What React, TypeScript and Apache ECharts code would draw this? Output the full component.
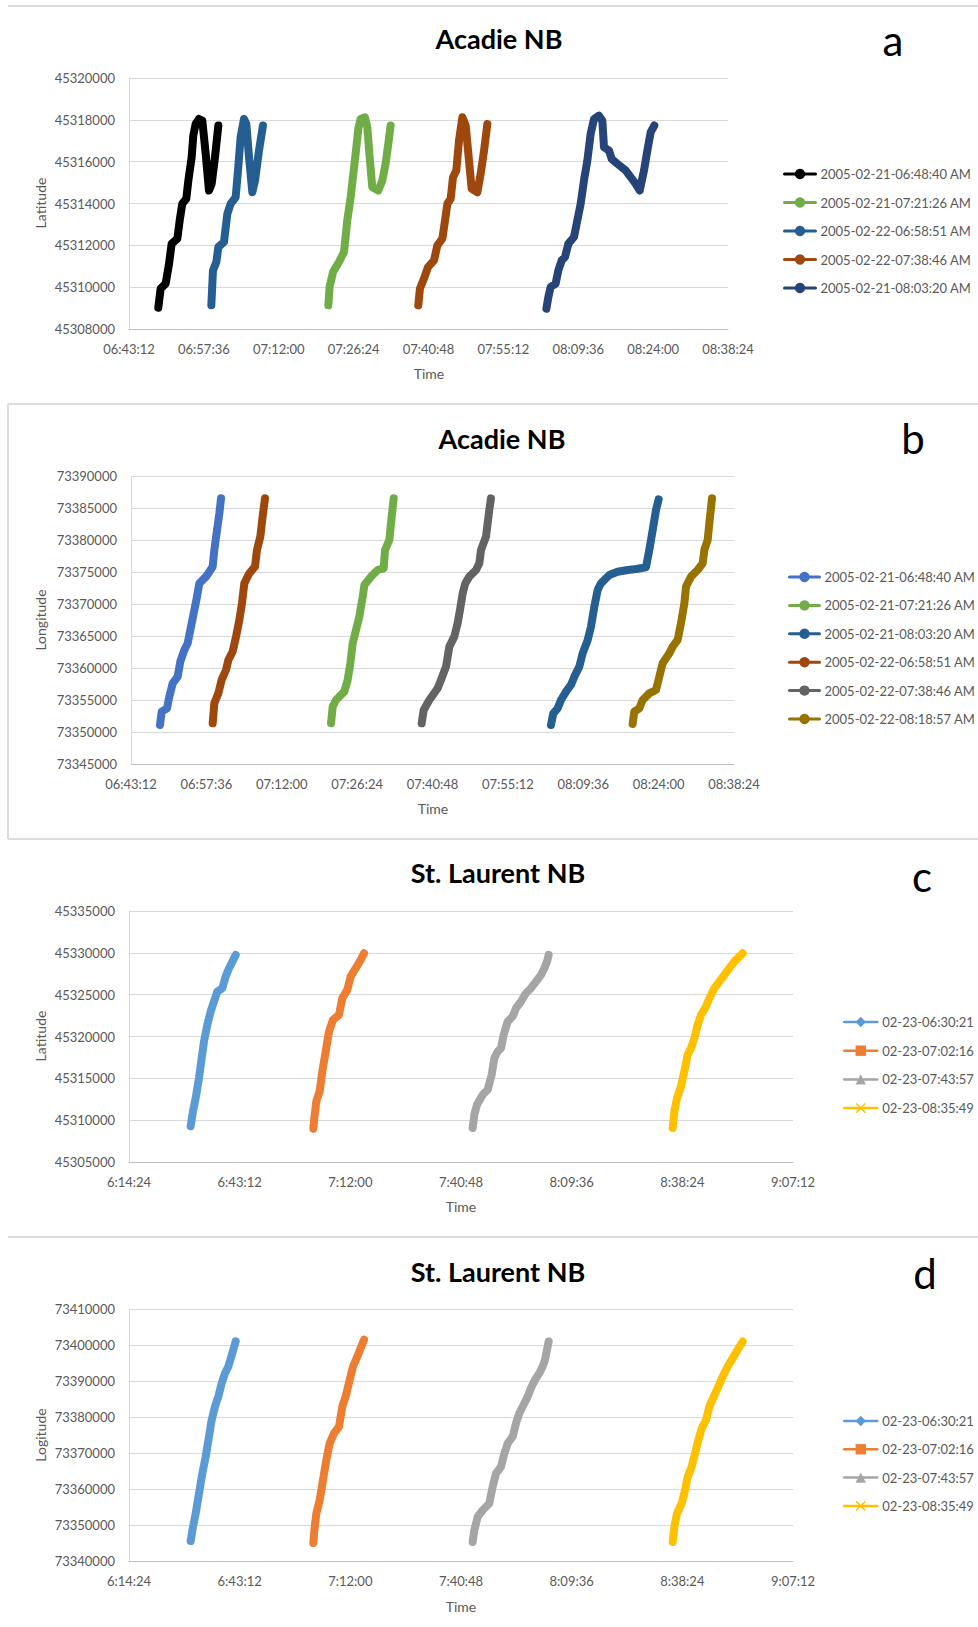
import React, { useEffect, useRef } from "react";
import * as echarts from "echarts";

const FONT = "Lato, 'Liberation Sans', sans-serif";
const LABEL = "#595959";
const GRID = "#d9d9d9";

// ---- Panel a: Acadie NB latitude (time in seconds since midnight, latitude)
const aTrip0648 = [[24530, 45309020], [24557, 45309930], [24615, 45310170], [24654, 45311120], [24684, 45312080], [24750, 45312320], [24777, 45313190], [24807, 45313990], [24853, 45314230], [24877, 45315100], [24915, 45316210], [24934, 45317250], [24961, 45317800], [24999, 45318040], [25038, 45317960], [25077, 45316370], [25115, 45314620], [25146, 45314940], [25184, 45316210], [25223, 45317730]];
const aTrip0721 = [[26492, 45309130], [26507, 45310010], [26546, 45310720], [26615, 45311200], [26673, 45311680], [26711, 45313190], [26750, 45314300], [26776, 45315260], [26807, 45316370], [26838, 45317570], [26865, 45318040], [26915, 45318120], [26942, 45317650], [26969, 45316210], [26999, 45314780], [27069, 45314620], [27115, 45315100], [27153, 45315900], [27184, 45316850], [27211, 45317730]];
const aTrip0658 = [[25142, 45309130], [25161, 45310800], [25200, 45311200], [25223, 45311920], [25288, 45312160], [25327, 45313510], [25365, 45313990], [25423, 45314300], [25453, 45315740], [25480, 45317170], [25519, 45318040], [25546, 45317800], [25577, 45316210], [25615, 45314540], [25646, 45315100], [25692, 45316530], [25738, 45317730]];
const aTrip0738 = [[27530, 45309130], [27549, 45309930], [27596, 45310410], [27642, 45310960], [27712, 45311280], [27750, 45312000], [27808, 45312320], [27839, 45313190], [27866, 45313990], [27904, 45314230], [27931, 45315260], [27969, 45315580], [28000, 45317010], [28039, 45318120], [28077, 45317730], [28108, 45316370], [28146, 45314700], [28212, 45314540], [28250, 45315420], [28289, 45316530], [28327, 45317800]];
const aTrip0803 = [[29008, 45308970], [29031, 45309530], [29058, 45310010], [29115, 45310170], [29146, 45310800], [29185, 45311280], [29223, 45311440], [29262, 45312080], [29327, 45312400], [29365, 45313190], [29404, 45313990], [29442, 45315100], [29481, 45316050], [29519, 45317330], [29558, 45318040], [29615, 45318200], [29654, 45317960], [29673, 45316690], [29731, 45316530], [29762, 45316130], [29827, 45315900], [29923, 45315580], [29981, 45315260], [30039, 45314940], [30085, 45314620], [30135, 45315580], [30173, 45316530], [30212, 45317410], [30254, 45317730]];

// ---- Panel b: Acadie NB longitude
const bTrip0648 = [[24524, 73351100], [24544, 73353180], [24605, 73353700], [24631, 73355520], [24670, 73357610], [24727, 73358650], [24757, 73360990], [24803, 73362810], [24842, 73363860], [24880, 73366460], [24918, 73369060], [24949, 73371150], [24975, 73373230], [25052, 73374270], [25128, 73375830], [25147, 73378440], [25178, 73381560], [25205, 73384170], [25224, 73386510]];
const bTrip0721 = [[26485, 73351360], [26504, 73353960], [26542, 73355000], [26637, 73356300], [26676, 73358130], [26706, 73360730], [26733, 73363860], [26771, 73365940], [26809, 73368020], [26848, 73371150], [26867, 73372970], [26943, 73374270], [27019, 73375310], [27088, 73375570], [27104, 73378440], [27153, 73380000], [27172, 73382600], [27203, 73386510]];
const bTrip0803 = [[29006, 73351100], [29033, 73352920], [29083, 73353700], [29121, 73355000], [29178, 73356300], [29235, 73357350], [29274, 73358650], [29331, 73360210], [29369, 73362290], [29427, 73364380], [29465, 73366460], [29503, 73369590], [29541, 73372190], [29579, 73373230], [29675, 73374530], [29770, 73375050], [29885, 73375310], [29981, 73375470], [30095, 73375730], [30133, 73378440], [30172, 73381560], [30210, 73384690], [30240, 73386350]];
const bTrip0658 = [[25128, 73351360], [25147, 73354480], [25193, 73356040], [25231, 73358130], [25281, 73359690], [25308, 73361250], [25357, 73362550], [25396, 73364900], [25434, 73367500], [25464, 73370110], [25491, 73373230], [25548, 73374790], [25613, 73375830], [25636, 73378440], [25674, 73380520], [25701, 73383650], [25728, 73386510]];
const bTrip0738 = [[27524, 73351360], [27547, 73353440], [27612, 73355000], [27707, 73356830], [27745, 73358130], [27803, 73360210], [27841, 73363340], [27898, 73364900], [27936, 73366980], [27963, 73369060], [27994, 73371670], [28024, 73373230], [28070, 73374270], [28147, 73375310], [28185, 73376360], [28204, 73378440], [28261, 73380520], [28280, 73382600], [28299, 73384690], [28318, 73386510]];
const bTrip0818 = [[29942, 73351250], [29961, 73353180], [30019, 73353700], [30057, 73355000], [30133, 73356040], [30210, 73356570], [30248, 73358650], [30286, 73360730], [30363, 73362290], [30401, 73363340], [30458, 73364380], [30496, 73366980], [30535, 73370110], [30554, 73372710], [30611, 73374270], [30687, 73375310], [30745, 73376360], [30764, 73378440], [30802, 73380000], [30821, 73382600], [30852, 73386510]];

// ---- Panel c: St. Laurent NB latitude
const cTrip0630 = [[23427, 45309280], [23463, 45311050], [23505, 45312640], [23557, 45315030], [23599, 45317420], [23635, 45319410], [23687, 45321400], [23739, 45322990], [23791, 45324180], [23843, 45325370], [23921, 45325770], [23973, 45327160], [24026, 45328160], [24078, 45328950], [24130, 45329750]];
const cTrip0702 = [[25342, 45308980], [25358, 45310260], [25389, 45312250], [25441, 45313440], [25483, 45315830], [25535, 45318210], [25587, 45320600], [25649, 45321990], [25743, 45322590], [25795, 45324580], [25873, 45325570], [25925, 45327160], [26003, 45328160], [26081, 45329150], [26134, 45329950]];
const cTrip0743 = [[27830, 45309060], [27856, 45310660], [27898, 45311850], [27986, 45313040], [28064, 45313640], [28127, 45315430], [28169, 45317420], [28221, 45318210], [28273, 45318610], [28314, 45320200], [28377, 45321790], [28455, 45322390], [28507, 45323380], [28585, 45324180], [28663, 45325170], [28741, 45325770], [28819, 45326570], [28897, 45327360], [28949, 45328160], [28991, 45328950], [29017, 45329750]];
const cTrip0835 = [[30953, 45309060], [30979, 45311050], [31021, 45312640], [31083, 45314040], [31135, 45315830], [31187, 45317820], [31239, 45318610], [31292, 45319800], [31344, 45321400], [31396, 45322590], [31474, 45323580], [31526, 45324580], [31604, 45325770], [31682, 45326570], [31760, 45327360], [31838, 45328160], [31916, 45328950], [31994, 45329550], [32046, 45329950]];

// ---- Panel d: St. Laurent NB longitude
const dTrip0630 = [[23427, 73345560], [23463, 73349460], [23505, 73353180], [23557, 73358750], [23609, 73364320], [23661, 73368960], [23713, 73374530], [23755, 73379170], [23807, 73382890], [23859, 73385670], [23911, 73389390], [23963, 73392170], [24015, 73394030], [24078, 73397740], [24130, 73400990]];
const dTrip0702 = [[25342, 73345010], [25358, 73348530], [25389, 73353180], [25441, 73356890], [25493, 73362460], [25545, 73368030], [25597, 73372670], [25665, 73375460], [25743, 73377320], [25795, 73382890], [25847, 73385670], [25910, 73390320], [25962, 73394030], [26030, 73396820], [26081, 73399140], [26134, 73401460]];
const dTrip0743 = [[27830, 73345280], [27856, 73348530], [27908, 73352250], [27986, 73354100], [28090, 73355960], [28142, 73360600], [28195, 73364320], [28273, 73366180], [28325, 73369890], [28377, 73372670], [28455, 73374530], [28507, 73378250], [28559, 73381030], [28637, 73383820], [28689, 73385670], [28751, 73388460], [28804, 73390320], [28871, 73392170], [28923, 73394030], [28960, 73395890], [28991, 73398670], [29017, 73400990]];
const dTrip0835 = [[30953, 73345280], [30979, 73349460], [31021, 73353180], [31094, 73355960], [31146, 73359680], [31187, 73363390], [31250, 73366180], [31302, 73369890], [31354, 73373600], [31406, 73376850], [31474, 73379170], [31526, 73382890], [31594, 73385670], [31666, 73388460], [31734, 73391240], [31812, 73394030], [31890, 73396350], [31968, 73398670], [32046, 73400990]];

// ---- Legends / labels
const aLabels = ["2005-02-21-06:48:40 AM", "2005-02-21-07:21:26 AM", "2005-02-22-06:58:51 AM", "2005-02-22-07:38:46 AM", "2005-02-21-08:03:20 AM"];
const bLabels = ["2005-02-21-06:48:40 AM", "2005-02-21-07:21:26 AM", "2005-02-21-08:03:20 AM", "2005-02-22-06:58:51 AM", "2005-02-22-07:38:46 AM", "2005-02-22-08:18:57 AM"];
const cdLabels = ["02-23-06:30:21", "02-23-07:02:16", "02-23-07:43:57", "02-23-08:35:49"];

const aColors = ["#000000", "#70ad47", "#255e91", "#9e480e", "#264478"];
const bColors = ["#4472c4", "#70ad47", "#255e91", "#9e480e", "#636363", "#997300"];
const cdColors = ["#5b9bd5", "#ed7d31", "#a5a5a5", "#ffc000"];
const XMARK = "path://M1,0L5,4L9,0L10,1L6,5L10,9L9,10L5,6L1,10L0,9L4,5L0,1Z";
const cdSymbols = ["diamond", "rect", "triangle", XMARK];

// axis ranges (time axes in seconds since midnight)
const abTimeMin = 24192, abTimeMax = 31104, abTimeStep = 864;   // 06:43:12 .. 08:38:24
const cdTimeMin = 22464, cdTimeMax = 32832, cdTimeStep = 1728;  // 6:14:24 .. 9:07:12

function fmtTime(v: number, pad: boolean) {
  const t = Math.round(v);
  const h = Math.floor(t / 3600);
  const m = Math.floor((t % 3600) / 60);
  const s = t % 60;
  const hh = pad ? String(h).padStart(2, "0") : String(h);
  return `${hh}:${String(m).padStart(2, "0")}:${String(s).padStart(2, "0")}`;
}

type Panel = {
  key: string;
  grid: { left: number; top: number; width: number; height: number };
  yMin: number; yMax: number; yStep: number;
  tMin: number; tMax: number; tStep: number; pad: boolean;
  labels: string[]; colors: string[]; symbols: string[]; data: number[][][];
  lineWidth: number;
  legend: { left: number; top: number; itemWidth: number; gap: number; lineW: number };
};

// legend left/top below are the icon positions; ECharts' default 5px padding is subtracted later
const panels: Panel[] = [
  {
    key: "a", grid: { left: 129, top: 78, width: 599, height: 251 },
    yMin: 45308000, yMax: 45320000, yStep: 2000,
    tMin: abTimeMin, tMax: abTimeMax, tStep: abTimeStep, pad: true,
    labels: aLabels, colors: aColors, symbols: aLabels.map(() => "circle"),
    data: [aTrip0648, aTrip0721, aTrip0658, aTrip0738, aTrip0803], lineWidth: 8,
    legend: { left: 783, top: 167.5, itemWidth: 31, gap: 15.5, lineW: 3 },
  },
  {
    key: "b", grid: { left: 131, top: 476, width: 603, height: 288 },
    yMin: 73345000, yMax: 73390000, yStep: 5000,
    tMin: abTimeMin, tMax: abTimeMax, tStep: abTimeStep, pad: true,
    labels: bLabels, colors: bColors, symbols: bLabels.map(() => "circle"),
    data: [bTrip0648, bTrip0721, bTrip0803, bTrip0658, bTrip0738, bTrip0818], lineWidth: 8,
    legend: { left: 788, top: 570.5, itemWidth: 30, gap: 15.4, lineW: 3 },
  },
  {
    key: "c", grid: { left: 129, top: 911, width: 664, height: 251 },
    yMin: 45305000, yMax: 45335000, yStep: 5000,
    tMin: cdTimeMin, tMax: cdTimeMax, tStep: cdTimeStep, pad: false,
    labels: cdLabels, colors: cdColors, symbols: cdSymbols,
    data: [cTrip0630, cTrip0702, cTrip0743, cTrip0835], lineWidth: 8,
    legend: { left: 843, top: 1015.5, itemWidth: 33, gap: 15.7, lineW: 2.5 },
  },
  {
    key: "d", grid: { left: 129, top: 1309, width: 664, height: 252 },
    yMin: 73340000, yMax: 73410000, yStep: 10000,
    tMin: cdTimeMin, tMax: cdTimeMax, tStep: cdTimeStep, pad: false,
    labels: cdLabels, colors: cdColors, symbols: cdSymbols,
    data: [dTrip0630, dTrip0702, dTrip0743, dTrip0835], lineWidth: 8,
    legend: { left: 843, top: 1414.5, itemWidth: 33, gap: 15.3, lineW: 2.5 },
  },
];

const titles = [
  { text: "Acadie NB", x: 499, y: 38 },
  { text: "Acadie NB", x: 502, y: 438 },
  { text: "St. Laurent NB", x: 498, y: 872 },
  { text: "St. Laurent NB", x: 498, y: 1271 },
];
const letters = [
  { text: "a", x: 893, y: 40 },
  { text: "b", x: 913, y: 438 },
  { text: "c", x: 922, y: 876 },
  { text: "d", x: 925, y: 1273 },
];
const yNames = [
  { text: "Latitude", x: 40, y: 203 },
  { text: "Longitude", x: 40, y: 620 },
  { text: "Latitude", x: 40, y: 1036 },
  { text: "Logitude", x: 40, y: 1435 },
];
const xNames = [
  { text: "Time", x: 429, y: 373 },
  { text: "Time", x: 433, y: 808 },
  { text: "Time", x: 461, y: 1206 },
  { text: "Time", x: 461, y: 1606 },
];

function buildOption() {
  const grid: any[] = [];
  const xAxis: any[] = [];
  const yAxis: any[] = [];
  const legend: any[] = [];
  const series: any[] = [];

  panels.forEach((p, i) => {
    grid.push({ ...p.grid, containLabel: false });
    xAxis.push({
      gridIndex: i, type: "value", min: p.tMin, max: p.tMax, interval: p.tStep,
      axisLine: { show: true, onZero: false, lineStyle: { color: "#bfbfbf", width: 1 } },
      axisTick: { show: false }, splitLine: { show: false },
      axisLabel: {
        margin: 13, color: LABEL, fontFamily: FONT, fontSize: 13,
        formatter: (v: number) => fmtTime(v, p.pad),
      },
    });
    yAxis.push({
      gridIndex: i, type: "value", min: p.yMin, max: p.yMax, interval: p.yStep,
      axisLine: { show: true, lineStyle: { color: GRID, width: 1 } },
      axisTick: { show: false },
      splitLine: { show: true, lineStyle: { color: GRID, width: 1 } },
      axisLabel: { margin: 14, color: LABEL, fontFamily: FONT, fontSize: 13, formatter: (v: number) => String(v) },
    });
    const names = p.labels.map((l) => `${p.key}|${l}`);
    legend.push({
      orient: "vertical", left: p.legend.left - 5, top: p.legend.top - 5,
      itemWidth: p.legend.itemWidth, itemHeight: 13, itemGap: p.legend.gap,
      data: names, selectedMode: false,
      formatter: (n: string) => n.split("|")[1],
      textStyle: { fontFamily: FONT, fontSize: 13, color: LABEL },
      lineStyle: { width: p.legend.lineW },
    });
    p.data.forEach((d, k) => {
      series.push({
        type: "line", name: names[k], xAxisIndex: i, yAxisIndex: i,
        data: d, showSymbol: false, symbol: p.symbols[k], symbolSize: 9,
        lineStyle: { color: p.colors[k], width: p.lineWidth, cap: "round", join: "round" },
        itemStyle: { color: p.colors[k] },
        emphasis: { disabled: true }, silent: true,
      });
    });
  });

  const graphic: any[] = [];
  const border = { stroke: "#dcdcdc", lineWidth: 2 };
  [6, 404, 839, 1237].forEach((y) => {
    graphic.push({ type: "line", shape: { x1: 8, y1: y, x2: 978, y2: y }, style: border, silent: true });
  });
  graphic.push({ type: "line", shape: { x1: 8, y1: 404, x2: 8, y2: 839 }, style: border, silent: true });

  titles.forEach((t) => graphic.push({
    type: "text", x: t.x, y: t.y, silent: true,
    style: { text: t.text, fontFamily: FONT, fontWeight: "bold", fontSize: 27, fill: "#000", align: "center", verticalAlign: "middle" },
  }));
  letters.forEach((t) => graphic.push({
    type: "text", x: t.x, y: t.y, silent: true,
    style: { text: t.text, fontFamily: FONT, fontSize: 42, fill: "#000", align: "center", verticalAlign: "middle" },
  }));
  yNames.forEach((t) => graphic.push({
    type: "text", x: t.x, y: t.y, rotation: Math.PI / 2, silent: true,
    style: { text: t.text, fontFamily: FONT, fontSize: 14, fill: LABEL, align: "center", verticalAlign: "middle" },
  }));
  xNames.forEach((t) => graphic.push({
    type: "text", x: t.x, y: t.y, silent: true,
    style: { text: t.text, fontFamily: FONT, fontSize: 14, fill: LABEL, align: "center", verticalAlign: "middle" },
  }));

  return {
    animation: false,
    backgroundColor: "#ffffff",
    grid, xAxis, yAxis, legend, series, graphic,
  };
}

export default function App() {
  const ref = useRef<HTMLDivElement>(null);
  useEffect(() => {
    document.body.style.margin = "0";
    if (!ref.current) return;
    const chart = echarts.init(ref.current, undefined, { renderer: "svg" });
    chart.setOption(buildOption());
    return () => chart.dispose();
  }, []);
  return <div ref={ref} style={{ width: 978, height: 1627 }} />;
}
